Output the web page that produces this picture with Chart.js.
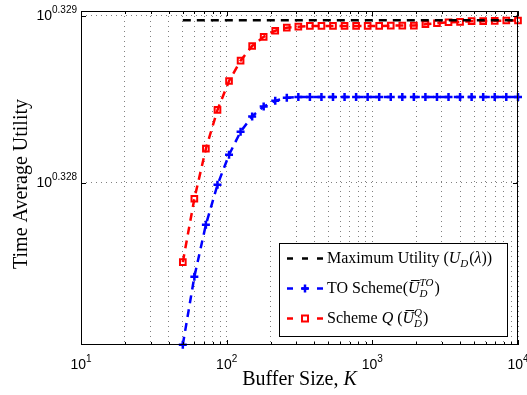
<!DOCTYPE html>
<html>
<head>
<meta charset="utf-8">
<script src="https://cdn.jsdelivr.net/npm/chart.js@4.4.0/dist/chart.umd.min.js"></script>
<style>
  html, body { margin: 0; padding: 0; background: #fff; }
  canvas { display: block; }
</style>
</head>
<body>
<canvas id="utilityChart" width="527" height="395"></canvas>
<script>
const bufferSizes = [50, 60, 72, 86.5, 103.8, 124.6, 149.6, 179.5, 215.5, 258.7,
    310.5, 372.7, 447.4, 537, 644.6, 773.7, 928.7, 1114.7, 1338, 1606,
    1928, 2314, 2778, 3334, 4002, 4804, 5767, 6922, 8309, 10000];

const toScheme = [2.12339, 2.12538, 2.12691, 2.12808, 2.12896, 2.12964, 2.13009, 2.13038, 2.13055, 2.13064,
    2.13066, 2.13066, 2.13066, 2.13066, 2.13066, 2.13066, 2.13066, 2.13066, 2.13066, 2.13066,
    2.13066, 2.13066, 2.13066, 2.13066, 2.13066, 2.13066, 2.13066, 2.13066, 2.13066, 2.13066];

const schemeQ = [2.12581, 2.12767, 2.12914, 2.13028, 2.13113, 2.13173, 2.13216, 2.13243, 2.13261, 2.13270,
    2.13273, 2.13275, 2.13275, 2.13275, 2.13275, 2.13275, 2.13275, 2.13275, 2.13276, 2.13276,
    2.13276, 2.13280, 2.13283, 2.13286, 2.13287, 2.13289, 2.13289, 2.13290, 2.13291, 2.13291];

const maxUtility = 2.13292;
const maxUtilityRange = [50, 10000];

const yLimits = [2.12338, 2.13319];
const yTickExponents = [0.328, 0.329];
const xDecades = [1, 2, 3, 4];

const serif = '"Liberation Serif", "Times New Roman", serif';
const sans = '"Liberation Sans", Arial, sans-serif';

const legendRows = [
    { color: '#000000', marker: null,
      parts: [{ t: 'Maximum Utility (' }, { t: 'U', it: true }, { sub: 'D' }, { t: '(' }, { t: 'λ', it: true }, { t: '))' }] },
    { color: '#0000ff', marker: 'plus',
      parts: [{ t: 'TO Scheme(' }, { t: 'U', it: true, bar: true }, { sub: 'D', sup: 'TO' }, { t: ')' }] },
    { color: '#ff0000', marker: 'square',
      parts: [{ t: 'Scheme ' }, { t: 'Q', it: true }, { t: ' (' }, { t: 'U', it: true, bar: true }, { sub: 'D', sup: 'Q' }, { t: ')' }] }
];

function toPoints(values) {
    return bufferSizes.map((k, i) => ({ x: k, y: values[i] }));
}

function xTickList() {
    const list = [];
    for (let d = 1; d < 4; d++) {
        for (let m = 1; m < 10; m++) list.push({ value: m * Math.pow(10, d) });
    }
    list.push({ value: 10000 });
    return list;
}

// "10" with a raised exponent
function drawPower(ctx, x, y, exp, align) {
    ctx.font = '14px ' + sans;
    const wBase = ctx.measureText('10').width;
    ctx.font = '10px ' + sans;
    const wExp = ctx.measureText(exp).width;
    const total = wBase + wExp;
    let start = align === 'right' ? x - total : x - total / 2;
    ctx.textAlign = 'left';
    ctx.textBaseline = 'alphabetic';
    ctx.font = '14px ' + sans;
    ctx.fillText('10', start, y);
    ctx.font = '10px ' + sans;
    ctx.fillText(exp, start + wBase, y - 7);
}

function drawRich(ctx, x, y, parts, size) {
    const small = Math.round(size * 0.7);
    ctx.textAlign = 'left';
    ctx.textBaseline = 'alphabetic';
    parts.forEach(p => {
        if (p.sub || p.sup) {
            ctx.font = 'italic ' + small + 'px ' + serif;
            let w = 0;
            if (p.sub) { ctx.fillText(p.sub, x, y + 4); w = ctx.measureText(p.sub).width; }
            if (p.sup) { ctx.fillText(p.sup, x, y - 7); w = Math.max(w, ctx.measureText(p.sup).width); }
            x += w + 1;
            return;
        }
        ctx.font = (p.it ? 'italic ' : '') + size + 'px ' + serif;
        const w = ctx.measureText(p.t).width;
        ctx.fillText(p.t, x, y);
        if (p.bar) {
            ctx.save();
            ctx.lineWidth = 1;
            ctx.beginPath();
            ctx.moveTo(x + 3, y - size * 0.78);
            ctx.lineTo(x + w, y - size * 0.78);
            ctx.stroke();
            ctx.restore();
        }
        x += w;
    });
}

const matlabFrame = {
    id: 'matlabFrame',
    afterDraw(chart) {
        const { ctx, chartArea: a, scales: { x, y } } = chart;
        ctx.save();
        ctx.strokeStyle = '#000';
        ctx.fillStyle = '#000';
        ctx.lineWidth = 1;

        // inward tick marks
        ctx.beginPath();
        x.ticks.forEach(t => {
            const px = Math.round(x.getPixelForValue(t.value)) + 0.5;
            const len = Number.isInteger(Math.round(Math.log10(t.value) * 1000) / 1000) ? 5 : 3;
            ctx.moveTo(px, a.bottom); ctx.lineTo(px, a.bottom - len);
            ctx.moveTo(px, a.top); ctx.lineTo(px, a.top + len);
        });
        y.ticks.forEach(t => {
            const py = Math.round(y.getPixelForValue(t.value)) + 0.5;
            ctx.moveTo(a.left, py); ctx.lineTo(a.left + 5, py);
            ctx.moveTo(a.right, py); ctx.lineTo(a.right - 5, py);
        });
        ctx.stroke();

        // axes box
        ctx.strokeRect(a.left + 0.5, a.top + 0.5, a.right - a.left - 1, a.bottom - a.top - 1);

        // tick labels
        xDecades.forEach(d => {
            drawPower(ctx, x.getPixelForValue(Math.pow(10, d)), 369, String(d), 'center');
        });
        yTickExponents.forEach(e => {
            drawPower(ctx, a.left - 4, y.getPixelForValue(Math.pow(10, e)) + 4, e.toFixed(3), 'right');
        });

        // axis titles
        ctx.font = '20px ' + serif;
        const w1 = ctx.measureText('Buffer Size, ').width;
        ctx.font = 'italic 20px ' + serif;
        const w2 = ctx.measureText('K').width;
        const cx = (a.left + a.right) / 2;
        drawRich(ctx, cx - (w1 + w2) / 2, 385, [{ t: 'Buffer Size, ' }, { t: 'K', it: true }], 20);

        ctx.save();
        ctx.translate(22, 184);
        ctx.rotate(-Math.PI / 2);
        ctx.font = '20px ' + serif;
        ctx.textAlign = 'center';
        ctx.textBaseline = 'middle';
        ctx.fillText('Time Average Utility', 0, 0);
        ctx.restore();

        // legend
        const lx = 279, ly = 243, lw = 228, lh = 93;
        ctx.fillStyle = '#fff';
        ctx.fillRect(lx, ly, lw, lh);
        ctx.strokeStyle = '#000';
        ctx.lineWidth = 1;
        ctx.strokeRect(lx + 0.5, ly + 0.5, lw, lh);
        legendRows.forEach((row, i) => {
            const ry = 258.5 + i * 30;
            ctx.strokeStyle = row.color;
            ctx.fillStyle = row.color;
            ctx.lineWidth = 2.5;
            ctx.setLineDash([6, 9]);
            ctx.beginPath();
            ctx.moveTo(287, ry); ctx.lineTo(323, ry);
            ctx.stroke();
            ctx.setLineDash([]);
            if (row.marker === 'plus') {
                ctx.beginPath();
                ctx.moveTo(301, ry); ctx.lineTo(309, ry);
                ctx.moveTo(305, ry - 4); ctx.lineTo(305, ry + 4);
                ctx.stroke();
            } else if (row.marker === 'square') {
                ctx.lineWidth = 2;
                ctx.fillStyle = '#fff';
                ctx.fillRect(302, ry - 3, 6, 6);
                ctx.strokeRect(302, ry - 3, 6, 6);
            }
            ctx.fillStyle = '#000';
            ctx.strokeStyle = '#000';
            drawRich(ctx, 327, ry + 4.5, row.parts, 16);
        });
        ctx.restore();
    }
};

const gridColor = 'rgba(0,0,0,0.5)';

new Chart(document.getElementById('utilityChart'), {
    type: 'line',
    data: {
        datasets: [
            {
                label: 'Maximum Utility',
                data: maxUtilityRange.map(k => ({ x: k, y: maxUtility })),
                borderColor: '#000000',
                borderWidth: 2.5,
                borderDash: [8, 6],
                pointRadius: 0,
                fill: false
            },
            {
                label: 'TO Scheme',
                data: toPoints(toScheme),
                borderColor: '#0000ff',
                borderWidth: 2.5,
                borderDash: [8, 6],
                pointStyle: 'cross',
                pointRadius: 4,
                pointBorderWidth: 2.5,
                pointBorderColor: '#0000ff',
                pointBackgroundColor: '#0000ff',
                clip: 6,
                fill: false
            },
            {
                label: 'Scheme Q',
                data: toPoints(schemeQ),
                borderColor: '#ff0000',
                borderWidth: 2.5,
                borderDash: [8, 6],
                pointStyle: 'rect',
                pointRadius: 4,
                pointBorderWidth: 2,
                pointBorderColor: '#ff0000',
                pointBackgroundColor: 'rgba(0,0,0,0)',
                clip: 6,
                fill: false
            }
        ]
    },
    options: {
        responsive: false,
        animation: false,
        layout: { padding: { left: 0, right: 9, top: 11, bottom: 0 } },
        plugins: {
            legend: { display: false },
            tooltip: { enabled: false }
        },
        scales: {
            x: {
                type: 'logarithmic',
                bounds: 'data',
                min: 10,
                max: 10000,
                afterBuildTicks: s => { s.ticks = xTickList(); },
                afterFit: s => { s.height = 50; },
                ticks: { display: false },
                grid: { color: gridColor, lineWidth: 1, drawTicks: false },
                border: { display: false, dash: [1, 4] }
            },
            y: {
                type: 'logarithmic',
                bounds: 'data',
                min: yLimits[0],
                max: yLimits[1],
                afterBuildTicks: s => { s.ticks = yTickExponents.map(e => ({ value: Math.pow(10, e) })); },
                afterFit: s => { s.width = 81; },
                ticks: { display: false },
                grid: { color: gridColor, lineWidth: 1, drawTicks: false },
                border: { display: false, dash: [1, 4] }
            }
        }
    },
    plugins: [matlabFrame]
});
</script>
</body>
</html>
